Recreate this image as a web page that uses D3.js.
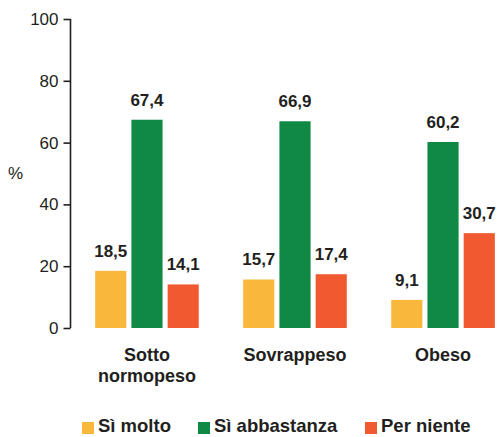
<!DOCTYPE html>
<html>
<head>
<meta charset="utf-8">
<script src="https://cdn.jsdelivr.net/npm/d3@7"></script>
<style>
  html, body { margin: 0; padding: 0; background: #fff; }
  svg text { font-family: "Liberation Sans", Arial, sans-serif; fill: #231f20; }
</style>
</head>
<body>
<svg id="chart" width="500" height="437"></svg>
<script>
// Categorie di peso e risposte
const categories = [["Sotto", "normopeso"], ["Sovrappeso"], ["Obeso"]];
const seriesNames = ["Sì molto", "Sì abbastanza", "Per niente"];
const siMolto      = [18.5, 15.7, 9.1];
const siAbbastanza = [67.4, 66.9, 60.2];
const perNiente    = [14.1, 17.4, 30.7];
const yTicks = [0, 20, 40, 60, 80, 100];
const colors = ["#f9b83b", "#0f8943", "#f15a30"];

const series = [siMolto, siAbbastanza, perNiente];
const catKeys = categories.map(c => c.join(" "));

const svg = d3.select("#chart");

const y = d3.scaleLinear().domain([0, 100]).range([328, 19]);

const x0 = d3.scaleBand()
  .domain(catKeys)
  .range([70, 520])
  .paddingInner(0.3)
  .paddingOuter(0.17);

const x1 = d3.scaleBand()
  .domain(seriesNames)
  .range([0, x0.bandwidth()])
  .paddingInner(0.14);

// Asse Y
const yAxis = d3.axisLeft(y).tickValues(yTicks).tickSize(7).tickPadding(5);
const gy = svg.append("g").attr("transform", "translate(70.5,0)").call(yAxis);
gy.select(".domain").attr("stroke", "#231f20").attr("stroke-width", 1.6).attr("d", "M0,19V328");
gy.selectAll(".tick line").attr("stroke", "#231f20").attr("stroke-width", 1.6);
gy.selectAll(".tick text").attr("font-size", 17).style("fill", "#231f20")
  .attr("font-family", "Liberation Sans, Arial, sans-serif");

svg.append("text").attr("x", 15.5).attr("y", 179).attr("text-anchor", "middle")
  .attr("font-size", 17).text("%");

// Barre
const groups = svg.selectAll("g.grp").data(catKeys).enter().append("g")
  .attr("class", "grp")
  .attr("transform", d => `translate(${x0(d)},0)`);

groups.each(function(cat, ci) {
  const g = d3.select(this);
  seriesNames.forEach((s, si) => {
    const v = series[si][ci];
    g.append("rect")
      .attr("x", x1(s))
      .attr("y", y(v))
      .attr("width", x1.bandwidth())
      .attr("height", y(0) - y(v))
      .attr("fill", colors[si]);
    g.append("text")
      .attr("x", x1(s) + x1.bandwidth() / 2)
      .attr("y", y(v) - 14)
      .attr("text-anchor", "middle")
      .attr("font-size", 17)
      .attr("font-weight", "bold")
      .text(d3.format(".1f")(v).replace(".", ","));
  });
});

// Etichette delle categorie
categories.forEach((lines, ci) => {
  const cx = x0(catKeys[ci]) + x0.bandwidth() / 2;
  const t = svg.append("text")
    .attr("text-anchor", "middle")
    .attr("font-size", 18)
    .attr("font-weight", "bold");
  lines.forEach((ln, li) => {
    t.append("tspan").attr("x", cx).attr("y", 361 + li * 21).text(ln);
  });
});

// Legenda
const legendX = [82, 198, 365];
seriesNames.forEach((s, si) => {
  const g = svg.append("g").attr("transform", `translate(${legendX[si]},0)`);
  g.append("rect").attr("x", 0).attr("y", 422).attr("width", 12).attr("height", 12).attr("fill", colors[si]);
  g.append("text").attr("x", 16).attr("y", 432).attr("font-size", 18.5).attr("font-weight", "bold").text(s);
});
</script>
</body>
</html>
